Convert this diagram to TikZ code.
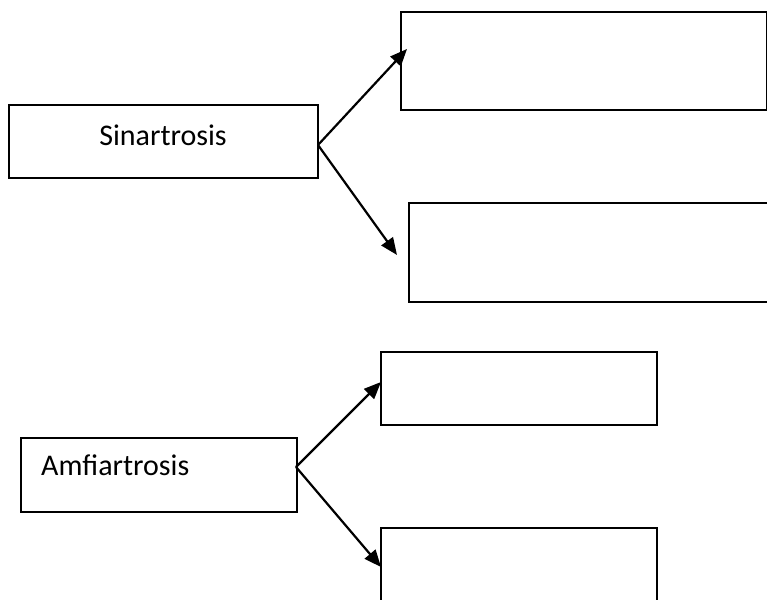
\documentclass[tikz,border=0pt]{standalone}
\usepackage{fontspec}
\setmainfont{Carlito}
\usetikzlibrary{arrows.meta}
\begin{document}
\begin{tikzpicture}[x=1pt,y=-1pt,
  box/.style={draw=black,line width=2.2pt,inner sep=0pt,anchor=north west},
  lbl/.style={font=\fontsize{30}{34}\selectfont,text=black,inner sep=0pt},
  link/.style={line width=2.2pt,-{Triangle[length=17pt,width=14pt]}}]
\useasboundingbox (0,0) rectangle (767,599);
\clip (0,0) rectangle (767,599);
% upper group
\node[box,minimum width=309pt,minimum height=73pt] (sin) at (8,104) {};
\node[lbl] (sintxt) at (163,135) {Sinartrosis};
\node[box,minimum width=366pt,minimum height=98pt] (s1) at (400,11) {};
\node[box,minimum width=380pt,minimum height=99pt] (s2) at (408,202) {};
\coordinate (sfrom) at (318,145);
\coordinate (sto1) at (407,49);
\coordinate (sto2) at (397,255);
\draw[link] (sfrom) -- (sto1);
\draw[link] (sfrom) -- (sto2);
% lower group
\node[box,minimum width=276pt,minimum height=74pt] (amf) at (20,437) {};
\node[lbl,anchor=base west] (amftxt) at (41,475) {Amfiartrosis};
\node[box,minimum width=276pt,minimum height=73pt] (a1) at (380,351) {};
\node[box,minimum width=276pt,minimum height=90pt] (a2) at (380,527) {};
\coordinate (afrom) at (296,467);
\coordinate (ato1) at (381,382);
\coordinate (ato2) at (381,567);
\draw[link] (afrom) -- (ato1);
\draw[link] (afrom) -- (ato2);
\end{tikzpicture}
\end{document}
